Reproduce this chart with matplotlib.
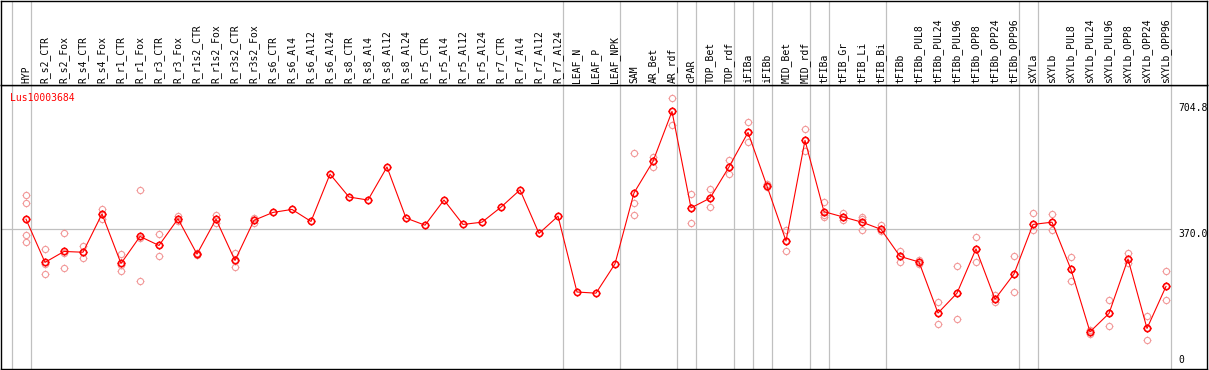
import matplotlib
matplotlib.use('Agg')
import matplotlib.pyplot as plt
from matplotlib.path import Path

gene = 'Lus10003684'

categories = [
    'HYP', 'R_s2_CTR', 'R_s2_Fox', 'R_s4_CTR', 'R_s4_Fox', 'R_r1_CTR', 'R_r1_Fox',
    'R_r3_CTR', 'R_r3_Fox', 'R_r1s2_CTR', 'R_r1s2_Fox', 'R_r3s2_CTR', 'R_r3s2_Fox',
    'R_s6_CTR', 'R_s6_Al4', 'R_s6_Al12', 'R_s6_Al24', 'R_s8_CTR', 'R_s8_Al4',
    'R_s8_Al12', 'R_s8_Al24', 'R_r5_CTR', 'R_r5_Al4', 'R_r5_Al12', 'R_r5_Al24',
    'R_r7_CTR', 'R_r7_Al4', 'R_r7_Al12', 'R_r7_Al24', 'LEAF_N', 'LEAF_P', 'LEAF_NPK',
    'SAM', 'AR_Bet', 'AR_rdf', 'cPAR', 'TOP_Bet', 'TOP_rdf', 'iFIBa', 'iFIBb',
    'MID_Bet', 'MID_rdf', 'tFIBa', 'tFIB_Gr', 'tFIB_Li', 'tFIB_Bi', 'tFIBb',
    'tFIBb_PUL8', 'tFIBb_PUL24', 'tFIBb_PUL96', 'tFIBb_OPP8', 'tFIBb_OPP24',
    'tFIBb_OPP96', 'sXYLa', 'sXYLb', 'sXYLb_PUL8', 'sXYLb_PUL24', 'sXYLb_PUL96',
    'sXYLb_OPP8', 'sXYLb_OPP24', 'sXYLb_OPP96',
]

means = [
    395, 280, 309, 307, 409, 277, 349, 325, 396, 302, 395, 285, 392,
    413, 421, 389, 515, 454, 446, 534, 398, 379, 446, 381, 387,
    427, 473, 357, 403, 201, 198, 276,
    465, 549, 682, 425, 451, 534, 626, 483,
    337, 605, 415, 401, 387, 368, 296,
    281, 145, 198, 316, 182, 249,
    381, 387, 261, 95, 144, 289, 104, 216,
]

replicates = [
    [459, 437, 353, 335], [316, 275, 249], [357, 306, 264], [324, 307, 291],
    [423, 409, 395], [302, 274, 256], [472, 345, 230], [355, 325, 296],
    [403, 395, 391], [305, 302, 299], [405, 396, 384], [304, 284, 268],
    [398, 392, 386],
    [], [], [], [], [], [], [], [], [], [], [], [], [], [], [], [],
    [], [], [],
    [571, 437, 405], [561, 549, 535], [717, 682, 646], [462, 425, 385],
    [475, 451, 427], [553, 534, 514], [653, 626, 601], [488, 483, 480],
    [366, 337, 309], [634, 605, 577], [440, 405, 401], [411, 401, 394],
    [402, 395, 365], [379, 368, 363], [311, 296, 280],
    [285, 281, 275], [174, 145, 115], [270, 198, 129], [347, 316, 282],
    [194, 182, 174], [296, 249, 200],
    [411, 381, 365], [408, 387, 365], [294, 261, 230], [100, 95, 90],
    [180, 144, 110], [305, 289, 279], [136, 104, 73], [257, 216, 179],
]

# index of last column in each group (separator drawn after it); -1 = before first
group_ends = [-1, 0, 28, 31, 34, 35, 37, 38, 39, 41, 42, 45, 52, 53, 60]

y_max_label = 704.8
y_mid_label = 370.0

# ---------------- layout ----------------
W, H = 1209, 370
fig = plt.figure(figsize=(W / 100, H / 100), dpi=100)
left_px, right_px = 1.0, 1206.5
top_px, header_px, bottom_px = 0.5, 85.0, 368.5

ax = fig.add_axes([left_px / W, 1 - bottom_px / H,
                   (right_px - left_px) / W, (bottom_px - header_px) / H])
hax = fig.add_axes([left_px / W, 1 - header_px / H,
                    (right_px - left_px) / W, (header_px - top_px) / H], sharex=ax)

step = 19.0
x0_px = 26.0
ax.set_xlim((left_px - x0_px) / step, (right_px - x0_px) / step)
px_per_unit = 0.3755
zero_px = 367.5
ax.set_ylim((zero_px - bottom_px) / px_per_unit, (zero_px - header_px) / px_per_unit)
hax.set_ylim(0, 1)

for a in (ax, hax):
    a.set_xticks([])
    a.set_yticks([])
    for s in a.spines.values():
        s.set_color('black')
        s.set_linewidth(1.0)

grid_c = '#c0c0c0'
sep_off = 0.24
for g in group_ends:
    ax.axvline(g + sep_off, color=grid_c, lw=0.9, zorder=0)
    hax.axvline(g + sep_off, color=grid_c, lw=0.9, zorder=0)

ax.hlines(y_mid_label, ax.get_xlim()[0], group_ends[-1] + sep_off,
          color=grid_c, lw=0.9, zorder=0)

# custom marker: circle with four little ticks
circ = Path.unit_circle()
tv, tc = [], []
for dx, dy in [(1, 0), (-1, 0), (0, 1), (0, -1)]:
    tv += [(dx * 1.0, dy * 1.0), (dx * 1.25, dy * 1.25)]
    tc += [Path.MOVETO, Path.LINETO]
marker_path = Path.make_compound_path(circ, Path(tv, tc))

xs = list(range(len(categories)))
rx, ry = [], []
for i, reps in enumerate(replicates):
    for v in reps:
        rx.append(i)
        ry.append(v)
ax.plot(rx, ry, linestyle='none', marker=marker_path, markersize=5.6,
        markerfacecolor='none', markeredgecolor='#f29a9a', markeredgewidth=0.8, zorder=2)

ax.plot(xs, means, color='#ff0000', lw=0.8, zorder=3)
ax.plot(xs, means, linestyle='none', marker=marker_path, markersize=5.6,
        markerfacecolor='none', markeredgecolor='#ff0000', markeredgewidth=1.15, zorder=4)

mono = 'DejaVu Sans Mono'
for i, lab in enumerate(categories):
    hax.text(i, 2.0 / (header_px - top_px), lab, rotation=90, ha='center', va='bottom',
             fontsize=7, family=mono, color='black', transform=hax.get_xaxis_transform())

ax.text(9.0 / (right_px - left_px), 1 - 8.0 / (bottom_px - header_px), gene,
        transform=ax.transAxes, ha='left', va='top', fontsize=7, family=mono, color='#ff0000')

lab_x = (1178.5 - left_px) / (right_px - left_px)
yt = ax.get_yaxis_transform()
ax.text(lab_x, y_max_label, f'{y_max_label:.1f}', transform=yt, ha='left', va='top',
        fontsize=7, family=mono, color='black')
ax.text(lab_x, y_mid_label, f'{y_mid_label:.1f}', transform=yt, ha='left', va='top',
        fontsize=7, family=mono, color='black')
ax.annotate('0', xy=(lab_x, 0), xycoords=yt, xytext=(0, 2), textcoords='offset points',
            ha='left', va='bottom', fontsize=7, family=mono, color='black')

fig.savefig('out.png', dpi=100)
